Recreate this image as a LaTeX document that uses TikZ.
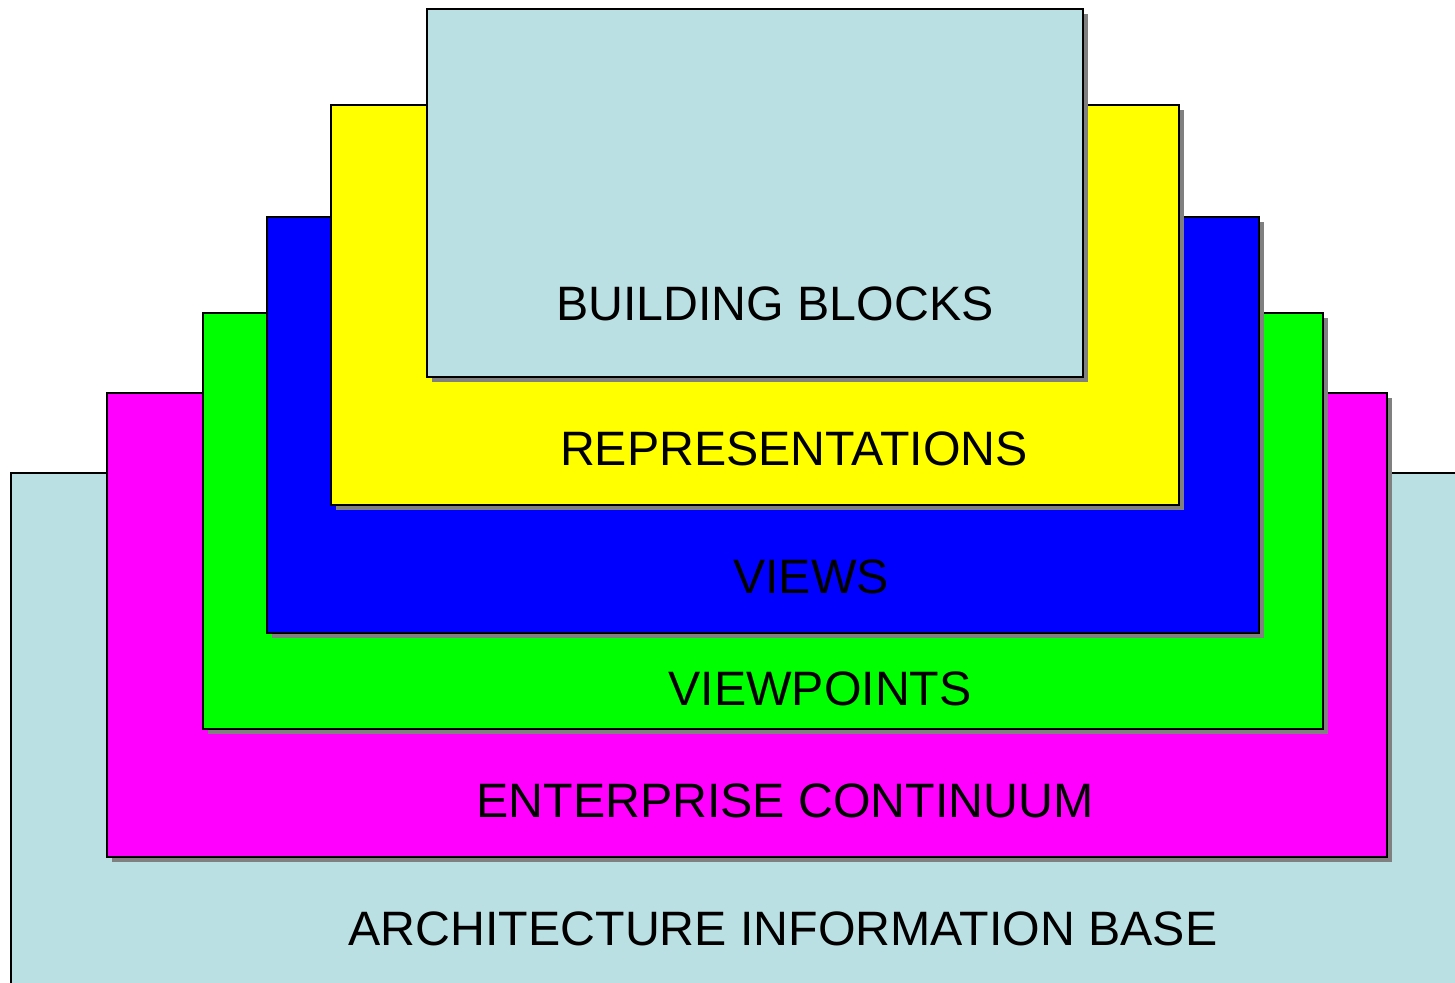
\documentclass[tikz,border=0pt]{standalone}
\usepackage{fontspec}
\setmainfont{Liberation Sans}
\definecolor{baseblue}{RGB}{187,224,227}
\definecolor{shadowgray}{RGB}{128,128,128}
\definecolor{puremagenta}{RGB}{255,0,255}
\definecolor{pureyellow}{RGB}{255,255,0}
\definecolor{puregreen}{RGB}{0,255,0}
\definecolor{pureblue}{RGB}{0,0,255}
\tikzset{
  layer/.style={draw=black, line width=2.2pt},
  shade box/.style={fill=shadowgray},
  label text/.style={anchor=base, inner sep=0pt, font=\fontsize{48.3}{50}\selectfont},
}
% draws a layer box with its offset shadow: #1 = name, #2 = fill, #3 = top-left, #4 = bottom-right
\newcommand{\layerbox}[4]{%
  \path[shade box] ($#3+(5,5)$) rectangle ($#4+(5,5)$);
  \path[layer, fill=#2] #3 rectangle #4 coordinate (#1);
}
\usetikzlibrary{calc}
\begin{document}
\begin{tikzpicture}[x=1pt,y=-1pt]
  \useasboundingbox (0,0) rectangle (1455,982);
  \clip (0,0) rectangle (1455,982);
  % outermost base layer, running off the page
  \path[layer, fill=baseblue] (11,473) rectangle (1470,1000);
  \layerbox{ec}{puremagenta}{(107,393)}{(1387,857)}
  \layerbox{vp}{puregreen}{(203,313)}{(1323,729)}
  \layerbox{vw}{pureblue}{(267,217)}{(1259,633)}
  \layerbox{rp}{pureyellow}{(331,105)}{(1179,505)}
  \layerbox{bb}{baseblue}{(427,9)}{(1083,377)}
  % layer titles
  \node[label text] (tbb) at (775,320) {BUILDING BLOCKS};
  \node[label text] (trp) at (794,465) {REPRESENTATIONS};
  \node[label text] (tvw) at (811,593) {VIEWS};
  \node[label text] (tvp) at (820,705) {VIEWPOINTS};
  \node[label text] (tec) at (785,817) {ENTERPRISE CONTINUUM};
  \node[label text] (tab) at (783,945) {ARCHITECTURE INFORMATION BASE};
\end{tikzpicture}
\end{document}
